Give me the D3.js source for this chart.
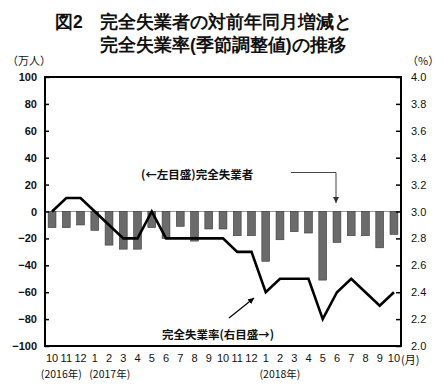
<!DOCTYPE html>
<html>
<head>
<meta charset="utf-8">
<script src="https://cdn.jsdelivr.net/npm/d3@7"></script>
<style>
  body { margin: 0; background: #fff; }
  text { font-family: "Liberation Sans", Arial, sans-serif; }
  .jp { font-family: "Noto Sans CJK JP", sans-serif; }
</style>
</head>
<body>
<div id="chart"></div>
<script>
const width = 443;
const height = 387;

// months from Oct 2016 to Oct 2018
const months = ["10", "11", "12", "1", "2", "3", "4", "5", "6", "7", "8", "9",
                "10", "11", "12", "1", "2", "3", "4", "5", "6", "7", "8", "9", "10"];
// year-on-year change of unemployed (万人)
const change = [-12, -12, -10, -14, -25, -28, -28, -12, -20, -11, -22, -13,
                -13, -18, -18, -37, -21, -15, -16, -51, -23, -18, -18, -27, -17];
// unemployment rate, seasonally adjusted (%)
const rate = [3.0, 3.1, 3.1, 3.0, 2.9, 2.8, 2.8, 3.0, 2.8, 2.8, 2.8, 2.8,
              2.8, 2.7, 2.7, 2.4, 2.5, 2.5, 2.5, 2.2, 2.4, 2.5, 2.4, 2.3, 2.4];
const leftTicks = [100, 80, 60, 40, 20, 0, -20, -40, -60, -80, -100];
const rightTicks = [4.0, 3.8, 3.6, 3.4, 3.2, 3.0, 2.8, 2.6, 2.4, 2.2, 2.0];
const yearLabels = [
  { idx: 0.65, text: "(2016年)" },
  { idx: 4.05, text: "(2017年)" },
  { idx: 16, text: "(2018年)" }
];

const margin = { top: 77, right: 42, bottom: 41, left: 45 };
const plotW = width - margin.left - margin.right;
const plotH = height - margin.top - margin.bottom;

const svg = d3.select("#chart")
  .append("svg")
  .attr("width", width)
  .attr("height", height);

svg.append("rect").attr("width", width).attr("height", height).attr("fill", "#fff");

// title
const title = svg.append("g").attr("class", "jp")
  .attr("font-weight", "bold").attr("font-size", 17.5).attr("fill", "#111");
title.append("text").attr("x", 55).attr("y", 28).text("図2");
title.append("text").attr("x", 100).attr("y", 28).text("完全失業者の対前年同月増減と");
title.append("text").attr("x", 100).attr("y", 51).text("完全失業率(季節調整値)の推移");

const g = svg.append("g").attr("transform", `translate(${margin.left},${margin.top})`);

const x = d3.scaleBand()
  .domain(d3.range(months.length))
  .range([0, plotW])
  .paddingInner(0.45)
  .paddingOuter(0.22);

const yL = d3.scaleLinear().domain([-100, 100]).range([plotH, 0]);
const yR = d3.scaleLinear().domain([2.0, 4.0]).range([plotH, 0]);

// zero line
g.append("line")
  .attr("x1", 0).attr("x2", plotW)
  .attr("y1", yL(0)).attr("y2", yL(0))
  .attr("stroke", "#999").attr("stroke-width", 1);

// bars
g.append("g")
  .selectAll("rect")
  .data(change)
  .join("rect")
  .attr("x", (d, i) => x(i))
  .attr("width", x.bandwidth())
  .attr("y", d => yL(Math.max(0, d)))
  .attr("height", d => Math.abs(yL(d) - yL(0)))
  .attr("fill", "#6b6b6b")
  .attr("stroke", "#3a3a3a")
  .attr("stroke-width", 0.6);

// rate line
const line = d3.line()
  .x((d, i) => x(i) + x.bandwidth() / 2)
  .y(d => yR(d));

g.append("path")
  .datum(rate)
  .attr("d", line)
  .attr("fill", "none")
  .attr("stroke", "#000")
  .attr("stroke-width", 2.6)
  .attr("stroke-linejoin", "miter");

// axes
const axisL = d3.axisLeft(yL).tickValues(leftTicks).tickSize(-4)
  .tickFormat(d => d < 0 ? "\u2212" + Math.abs(d) : d);
const gL = g.append("g").call(axisL);
gL.select(".domain").remove();
gL.selectAll("line").attr("stroke", "#000").attr("stroke-width", 1.5);
gL.selectAll("text").attr("x", -8).attr("font-size", 11).attr("font-weight", "bold").attr("fill", "#111");

const axisR = d3.axisRight(yR).tickValues(rightTicks).tickSize(-5)
  .tickFormat(d3.format(".1f"));
const gR = g.append("g").attr("transform", `translate(${plotW},0)`).call(axisR);
gR.select(".domain").remove();
gR.selectAll("line").attr("stroke", "#000").attr("stroke-width", 1.5);
gR.selectAll("text").attr("x", 10).attr("font-size", 11).attr("fill", "#111");

// frame
g.append("rect")
  .attr("width", plotW).attr("height", plotH)
  .attr("fill", "none").attr("stroke", "#000").attr("stroke-width", 2);

// x labels
const axisB = d3.axisBottom(x).tickSize(0).tickFormat(i => months[i]);
const gB = g.append("g").attr("transform", `translate(0,${plotH})`).call(axisB);
gB.select(".domain").remove();
gB.selectAll("text").attr("y", 8).attr("font-size", 11).attr("fill", "#111");
g.append("text")
  .attr("x", x(months.length - 1) + x.bandwidth() / 2 + 7)
  .attr("y", plotH + 18)
  .attr("class", "jp").attr("font-size", 11).attr("fill", "#111")
  .text("(月)");

g.append("g").selectAll("text")
  .data(yearLabels)
  .join("text")
  .attr("class", "jp")
  .attr("x", d => x(Math.floor(d.idx)) + x.bandwidth() / 2 + (d.idx % 1) * x.step())
  .attr("y", plotH + 32)
  .attr("text-anchor", "middle")
  .attr("font-size", 10.5).attr("fill", "#111")
  .text(d => d.text);

// units
svg.append("text").attr("class", "jp").attr("x", 7).attr("y", 65)
  .attr("font-size", 11).attr("fill", "#111").text("（万人）");
svg.append("text").attr("class", "jp").attr("x", 407).attr("y", 65)
  .attr("font-size", 11).attr("fill", "#111").text("（%）");

// annotations
const defs = svg.append("defs");
defs.append("marker").attr("id", "arrG")
  .attr("viewBox", "0 0 10 10").attr("refX", 10).attr("refY", 5)
  .attr("markerWidth", 6).attr("markerHeight", 6).attr("orient", "auto")
  .append("path").attr("d", "M0,0L10,5L0,10z").attr("fill", "#333");
defs.append("marker").attr("id", "arrK")
  .attr("viewBox", "0 0 10 10").attr("refX", 10).attr("refY", 5)
  .attr("markerWidth", 5).attr("markerHeight", 5).attr("orient", "auto")
  .append("path").attr("d", "M0,0L10,5L0,10z").attr("fill", "#000");

svg.append("text").attr("class", "jp").attr("x", 141).attr("y", 179)
  .attr("font-size", 11.5).attr("font-weight", "bold").attr("fill", "#111")
  .text("(←左目盛)完全失業者");
svg.append("path")
  .attr("d", "M291,172.5H336V203")
  .attr("fill", "none").attr("stroke", "#444").attr("stroke-width", 1)
  .attr("marker-end", "url(#arrG)");

svg.append("text").attr("class", "jp").attr("x", 162).attr("y", 339)
  .attr("font-size", 11.5).attr("font-weight", "bold").attr("fill", "#111")
  .text("完全失業率(右目盛→)");
svg.append("line")
  .attr("x1", 229).attr("y1", 318).attr("x2", 254).attr("y2", 298)
  .attr("stroke", "#000").attr("stroke-width", 1.2)
  .attr("marker-end", "url(#arrK)");
</script>
</body>
</html>
